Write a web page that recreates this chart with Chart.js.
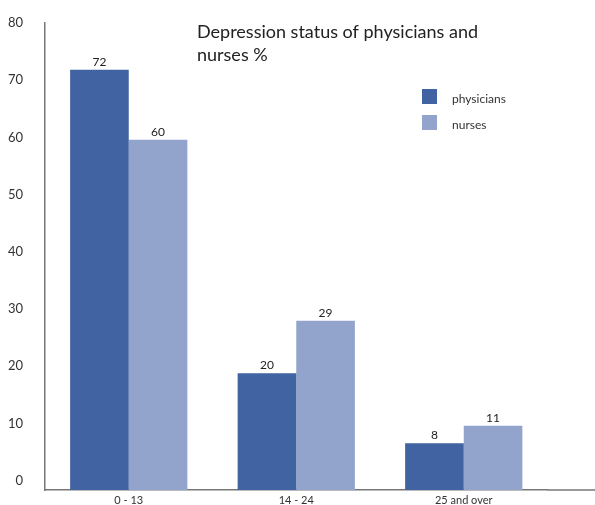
<!DOCTYPE html>
<html lang="en">
<head>
    <meta charset="UTF-8">
    <title>Depression status of physicians and nurses %</title>
    <script src="https://cdn.jsdelivr.net/npm/chart.js"></script>
    <style>
        html, body { margin: 0; padding: 0; background: #fff; }
        #wrap { width: 595px; height: 505px; position: relative; }
    </style>
</head>
<body>
<div id="wrap">
    <canvas id="depressionChart"></canvas>
</div>

<script>
    // data
    const ageGroups = ['0 - 13', '14 - 24', '25 and over'];
    const physicians = [72, 20, 8];
    const nurses = [60, 29, 11];
    const yTicks = [0, 10, 20, 30, 40, 50, 60, 70, 80];
    const titleLines = ['Depression status of physicians and', 'nurses %'];

    const FONT = 'Lato, "Open Sans", sans-serif';

    // value labels above each bar
    const barValues = {
        id: 'barValues',
        afterDatasetsDraw(chart) {
            const ctx = chart.ctx;
            ctx.save();
            ctx.font = '12px ' + FONT;
            ctx.fillStyle = '#222';
            ctx.textAlign = 'center';
            ctx.textBaseline = 'middle';
            chart.data.datasets.forEach((ds, i) => {
                chart.getDatasetMeta(i).data.forEach((bar, j) => {
                    ctx.fillText(ds.data[j], bar.x, bar.y - 8);
                });
            });
            ctx.restore();
        }
    };

    // title, legend and the x axis line running to the right edge
    const decorations = {
        id: 'decorations',
        afterDraw(chart) {
            const ctx = chart.ctx;
            const area = chart.chartArea;
            ctx.save();

            ctx.strokeStyle = '#777';
            ctx.lineWidth = 1.5;
            ctx.beginPath();
            ctx.moveTo(area.right, area.bottom);
            ctx.lineTo(chart.width, area.bottom);
            ctx.stroke();

            ctx.font = '18px ' + FONT;
            ctx.fillStyle = '#222';
            ctx.textAlign = 'left';
            ctx.textBaseline = 'alphabetic';
            titleLines.forEach((line, i) => ctx.fillText(line, 197, 38 + i * 23));

            ctx.font = '12px ' + FONT;
            ctx.textBaseline = 'middle';
            chart.data.datasets.forEach((ds, i) => {
                const y = 89 + i * 26;
                ctx.fillStyle = ds.backgroundColor;
                ctx.fillRect(422, y, 15, 15);
                ctx.fillStyle = '#333';
                ctx.fillText(ds.label, 452, y + 10);
            });
            ctx.restore();
        }
    };

    new Chart(document.getElementById('depressionChart'), {
        type: 'bar',
        data: {
            labels: ageGroups,
            datasets: [
                { label: 'physicians', data: physicians, backgroundColor: '#4163a1' },
                { label: 'nurses', data: nurses, backgroundColor: '#93a4cc' }
            ]
        },
        options: {
            responsive: true,
            maintainAspectRatio: false,
            animation: false,
            categoryPercentage: 0.7,
            barPercentage: 1.0,
            layout: { padding: { top: 23, right: 47.5, left: 0, bottom: 0 } },
            plugins: {
                legend: { display: false },
                title: { display: false },
                tooltip: { enabled: false }
            },
            scales: {
                x: {
                    grid: { display: false, drawTicks: false },
                    border: { display: true, color: '#777', width: 1.5 },
                    ticks: { color: '#333', font: { family: FONT, size: 11 }, padding: 4 },
                    afterFit: scale => { scale.height = 15; scale.paddingLeft = 0; scale.paddingRight = 0; }
                },
                y: {
                    min: 0,
                    max: 80,
                    grid: { display: false, drawTicks: false },
                    border: { display: true, color: '#777', width: 1.5 },
                    ticks: { display: false },
                    afterFit: scale => { scale.width = 0; }
                },
                // tick labels sit on a slightly tighter spacing than the bars in the original
                yl: {
                    position: 'left',
                    min: -1.66,
                    max: 80,
                    afterBuildTicks: scale => { scale.ticks = yTicks.map(v => ({ value: v })); },
                    grid: { display: false, drawTicks: false },
                    border: { display: false },
                    ticks: { color: '#333', font: { family: FONT, size: 13 }, padding: 22 },
                    afterFit: scale => { scale.width = 45; scale.paddingTop = 0; scale.paddingBottom = 0; }
                }
            }
        },
        plugins: [barValues, decorations]
    });
</script>
</body>
</html>
